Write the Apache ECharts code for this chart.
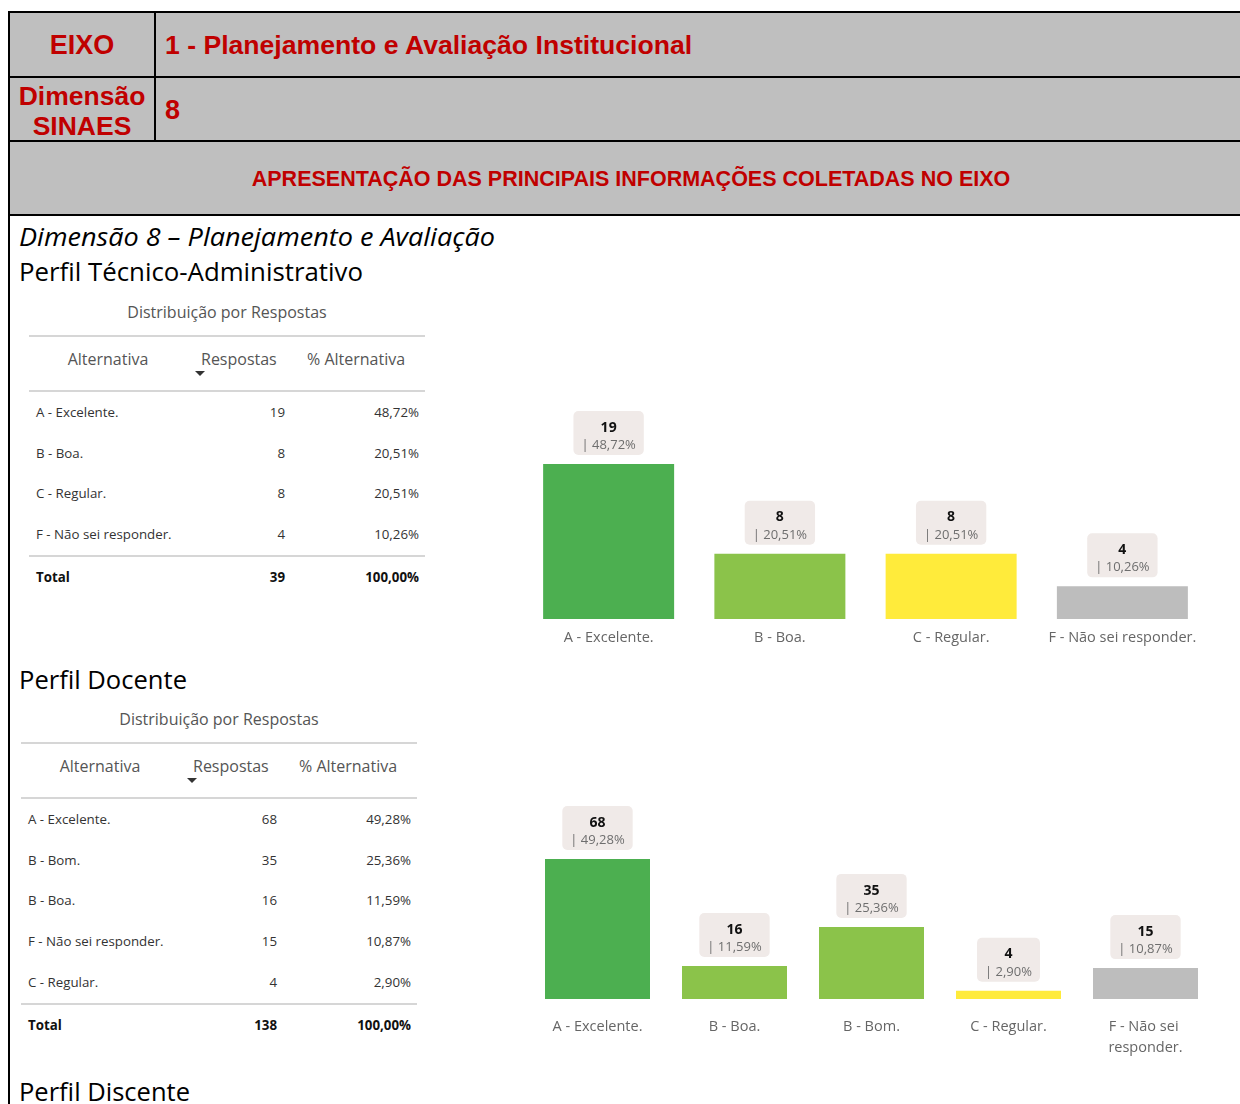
<!DOCTYPE html>
<html><head><meta charset="utf-8">
<script src="https://cdn.jsdelivr.net/npm/echarts@6/dist/echarts.min.js"></script>
<style>
html,body{margin:0;padding:0;width:1240px;height:1104px;overflow:hidden;background:#fff;}
.abs{position:absolute;white-space:nowrap;}
.hdr{font-family:"Liberation Sans",Arial,sans-serif;font-weight:bold;color:#C00000;}
.pbi{font-family:"Open Sans","Noto Sans",sans-serif;}
.doc{font-family:"Open Sans","Noto Sans",sans-serif;color:#000;}
</style></head><body>
<div id="page"></div>
<div id="chart" style="position:absolute;left:0;top:0;width:1240px;height:1104px;"></div>
<script>
// ---------- DATA ----------
const eixoLabel = 'EIXO';
const eixoTitle = '1 - Planejamento e Avaliação Institucional';
const dimLabel = ['Dimensão', 'SINAES'];
const dimValue = '8';
const bannerText = 'APRESENTAÇÃO DAS PRINCIPAIS INFORMAÇÕES COLETADAS NO EIXO';
const sectionTitle = 'Dimensão 8 – Planejamento e Avaliação';
const profileTitles = ['Perfil Técnico-Administrativo', 'Perfil Docente', 'Perfil Discente'];
const tableTitle = 'Distribuição por Respostas';
const tableHeaders = ['Alternativa', 'Respostas', '% Alternativa'];
const totalLabel = 'Total';

// Perfil Técnico-Administrativo (table order)
const techCategories = ['A - Excelente.', 'B - Boa.', 'C - Regular.', 'F - Não sei responder.'];
const techValues = [19, 8, 8, 4];
const techPct = ['48,72%', '20,51%', '20,51%', '10,26%'];
const techTotal = [39, '100,00%'];

// Perfil Docente (table order)
const docCategories = ['A - Excelente.', 'B - Bom.', 'B - Boa.', 'F - Não sei responder.', 'C - Regular.'];
const docValues = [68, 35, 16, 15, 4];
const docPct = ['49,28%', '25,36%', '11,59%', '10,87%', '2,90%'];
const docTotal = [138, '100,00%'];

// colour by answer letter
const letterColors = { A: '#4CAF50', B: '#8BC34A', C: '#FFEB3B', F: '#BDBDBD' };

// ---------- PAGE (HTML) ----------
const page = document.getElementById('page');
function box(x, y, w, h, css) {
  const d = document.createElement('div');
  d.className = 'abs';
  d.style.cssText += `left:${x}px;top:${y}px;width:${w}px;height:${h}px;` + (css || '');
  page.appendChild(d); return d;
}
function txt(text, x, yc, cls, css, align, lh) {
  lh = lh || 30;
  const d = document.createElement('div');
  d.className = 'abs ' + (cls || '');
  d.textContent = text;
  let left = x, w = null;
  if (align === 'center') { left = x - 600; w = 1200; }
  else if (align === 'right') { left = x - 300; w = 300; }
  d.style.cssText += `left:${left}px;top:${yc - lh / 2}px;height:${lh}px;line-height:${lh}px;` +
    (w ? `width:${w}px;text-align:${align};` : '') + (css || '');
  page.appendChild(d); return d;
}
function fitWidth(el, target) {
  el.style.display = 'inline-block';
  const w = el.getBoundingClientRect().width;
  el.style.transformOrigin = 'left center';
  el.style.transform = `scaleX(${target / w})`;
}

// header block
box(8, 11, 1250, 205, 'background:#BFBFBF;box-sizing:border-box;border-top:2px solid #000;border-left:2px solid #000;border-bottom:2px solid #000;');
box(8, 76, 1250, 2, 'background:#000;');
box(8, 140, 1250, 2, 'background:#000;');
box(154, 11, 2, 130, 'background:#000;');
box(8, 215, 2, 900, 'background:#000;');
txt(eixoLabel, 82, 45, 'hdr', 'font-size:27px;', 'center');
txt(eixoTitle, 165, 45, 'hdr', 'font-size:26.6px;');
txt(dimLabel[0], 82, 96, 'hdr', 'font-size:26.5px;', 'center');
txt(dimLabel[1], 82, 126, 'hdr', 'font-size:26.5px;', 'center');
txt(dimValue, 165, 110, 'hdr', 'font-size:27px;');
txt(bannerText, 631, 179, 'hdr', 'font-size:21.5px;', 'center');

// headings
fitWidth(txt(sectionTitle, 19, 236, 'doc', 'font-size:26px;font-style:italic;'), 476);
fitWidth(txt(profileTitles[0], 19, 271, 'doc', 'font-size:26px;'), 344);
fitWidth(txt(profileTitles[1], 19, 679, 'doc', 'font-size:26px;'), 168);
fitWidth(txt(profileTitles[2], 19, 1091, 'doc', 'font-size:26px;'), 171);

function buildTable(x0, y0, cats, vals, pct, total) {
  const W = 396, step = 40.7, fs = 'font-size:13.3px;';
  txt(tableTitle, x0 + 198, y0 - 23, 'pbi', 'font-size:16px;color:#555;', 'center');
  box(x0, y0, W, 2, 'background:#D6D6D6;');
  txt(tableHeaders[0], x0 + 79, y0 + 24, 'pbi', 'font-size:16px;color:#555;', 'center');
  txt(tableHeaders[1], x0 + 172, y0 + 24, 'pbi', 'font-size:16px;color:#555;');
  txt(tableHeaders[2], x0 + 278, y0 + 24, 'pbi', 'font-size:16px;color:#555;');
  box(x0 + 166, y0 + 36, 0, 0, 'border-left:5px solid transparent;border-right:5px solid transparent;border-top:5px solid #333;');
  box(x0, y0 + 55, W, 2, 'background:#D6D6D6;');
  let y = y0 + 77;
  cats.forEach((c, i) => {
    const yc = y + i * step;
    txt(c, x0 + 7, yc, 'pbi', fs + 'color:#333;');
    txt(String(vals[i]), x0 + 256, yc, 'pbi', fs + 'color:#333;', 'right');
    txt(pct[i], x0 + 390, yc, 'pbi', fs + 'color:#333;', 'right');
  });
  const yl = y + (cats.length - 1) * step + 21;
  box(x0, yl, W, 2, 'background:#D6D6D6;');
  txt(totalLabel, x0 + 7, yl + 22, 'pbi', fs + 'color:#111;font-weight:bold;');
  txt(String(total[0]), x0 + 256, yl + 22, 'pbi', fs + 'color:#111;font-weight:bold;', 'right');
  txt(total[1], x0 + 390, yl + 22, 'pbi', fs + 'color:#111;font-weight:bold;', 'right');
}
buildTable(29, 335, techCategories, techValues, techPct, techTotal);
buildTable(21, 742, docCategories, docValues, docPct, docTotal);

// ---------- CHARTS (ECharts) ----------
function chartOrder(cats, vals, pct) {
  const idx = cats.map((c, i) => i).sort((a, b) => cats[a].localeCompare(cats[b]));
  return { cats: idx.map(i => cats[i]), vals: idx.map(i => vals[i]), pct: idx.map(i => pct[i]) };
}
const techChart = chartOrder(techCategories, techValues, techPct);
const docChart = chartOrder(docCategories, docValues, docPct);

function barSeries(d, gi, bw) {
  return {
    type: 'bar', xAxisIndex: gi, yAxisIndex: gi, barWidth: bw,
    data: d.vals.map((v, i) => ({ value: v, itemStyle: { color: letterColors[d.cats[i][0]] } })),
    label: {
      show: true, position: 'top', distance: 9,
      backgroundColor: '#F0EAE8', borderRadius: 5, padding: [8, 8, 1, 8],
      formatter: p => `{v|${p.value}}\n{p|| ${d.pct[p.dataIndex]}}`,
      rich: {
        v: { fontFamily: 'Open Sans', fontWeight: 'bold', fontSize: 14, color: '#111', lineHeight: 17.5, align: 'center' },
        p: { fontFamily: 'Open Sans', fontSize: 13, color: '#6E6E6E', lineHeight: 17.5, align: 'center' }
      }
    }
  };
}
function xAx(d, gi, margin, w) {
  return {
    type: 'category', gridIndex: gi, data: d.cats,
    axisLine: { show: false }, axisTick: { show: false },
    axisLabel: { color: '#666', fontSize: 14.5, fontFamily: 'Open Sans', margin: margin,
      interval: 0, width: w, overflow: 'break', lineHeight: 21 }
  };
}
const chart = echarts.init(document.getElementById('chart'), null, { renderer: 'canvas' });
chart.setOption({
  animation: false,
  grid: [
    { left: 523, top: 415, width: 685, height: 204 },
    { left: 529, top: 793, width: 685, height: 206 }
  ],
  xAxis: [xAx(techChart, 0, 8, 175), xAx(docChart, 1, 17, 122)],
  yAxis: [
    { type: 'value', gridIndex: 0, min: 0, max: 25, show: false },
    { type: 'value', gridIndex: 1, min: 0, max: 100, show: false }
  ],
  series: [barSeries(techChart, 0, 131), barSeries(docChart, 1, 105)]
});
</script>
</body></html>
